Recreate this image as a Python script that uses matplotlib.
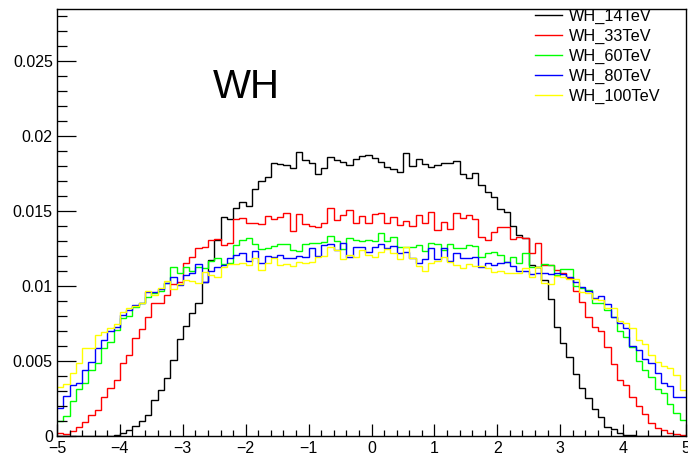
import numpy as np
import matplotlib
matplotlib.use("Agg")
import matplotlib.pyplot as plt
from matplotlib.ticker import MultipleLocator, FuncFormatter

plt.rcParams['font.family'] = ['Liberation Sans', 'DejaVu Sans']

# 100 bins from -5 to 5
edges = np.linspace(-5, 5, 101)

wh_14 = [0, 0, 0, 0, 0, 0, 0, 0, 0, 0.00007,
         0.00018, 0.0004, 0.00067, 0.001, 0.0014, 0.0024, 0.00307, 0.0039, 0.00507, 0.00644,
         0.00736, 0.00818, 0.00884, 0.01029, 0.01173, 0.01307, 0.01462, 0.01447, 0.01522, 0.01558,
         0.01536, 0.01644, 0.01702, 0.01725, 0.01822, 0.01813, 0.01807, 0.01784, 0.01896, 0.0184,
         0.01818, 0.01744, 0.01784, 0.01862, 0.0184, 0.01829, 0.01807, 0.01844, 0.01869, 0.01873,
         0.01851, 0.01829, 0.01796, 0.01778, 0.01762, 0.01889, 0.018, 0.01847, 0.01813, 0.01796,
         0.01807, 0.01822, 0.01822, 0.01836, 0.01747, 0.01718, 0.01751, 0.01673, 0.01629, 0.01591,
         0.01511, 0.01496, 0.014, 0.0134, 0.01318, 0.0114, 0.01124, 0.0104, 0.00911, 0.00724,
         0.00618, 0.00524, 0.00413, 0.00318, 0.00256, 0.0018, 0.00127, 0.0006, 0.00045, 0.0002,
         0.0001, 0.00007, 0, 0, 0, 0, 0, 0, 0, 0]

wh_33 = [0.00018, 0.00011, 0.00036, 0.00058, 0.00096, 0.0014, 0.00173, 0.00262, 0.00318, 0.00373,
         0.00489, 0.0054, 0.00656, 0.00711, 0.00796, 0.00889, 0.0089, 0.0094, 0.01013, 0.01029,
         0.01156, 0.01191, 0.01251, 0.01258, 0.01307, 0.01311, 0.01273, 0.01289, 0.01444, 0.01456,
         0.01422, 0.01418, 0.01413, 0.01465, 0.01444, 0.01462, 0.01484, 0.01369, 0.0148, 0.01413,
         0.014, 0.01391, 0.01422, 0.01518, 0.0144, 0.01473, 0.01507, 0.01418, 0.01467, 0.01418,
         0.0148, 0.01489, 0.01418, 0.01458, 0.01407, 0.01433, 0.014, 0.01473, 0.01422, 0.01493,
         0.01373, 0.01429, 0.01382, 0.01489, 0.01451, 0.01471, 0.01444, 0.01324, 0.01307, 0.01358,
         0.01391, 0.01391, 0.01316, 0.01324, 0.01318, 0.01222, 0.01289, 0.0114, 0.0114, 0.01107,
         0.01089, 0.01053, 0.00969, 0.00891, 0.00796, 0.00724, 0.00702, 0.00596, 0.0048, 0.00373,
         0.0034, 0.00258, 0.00202, 0.00144, 0.00084, 0.00051, 0.0004, 0.00022, 0.00011, 0.00007]

wh_60 = [0.00102, 0.00133, 0.00236, 0.00311, 0.00351, 0.0044, 0.00484, 0.00584, 0.00629, 0.00707,
         0.00784, 0.008, 0.00862, 0.00884, 0.00929, 0.00951, 0.00969, 0.0102, 0.01124, 0.01089,
         0.01124, 0.011, 0.01129, 0.01122, 0.01169, 0.01184, 0.01147, 0.01151, 0.01273, 0.01307,
         0.01322, 0.01278, 0.01247, 0.01251, 0.01267, 0.0128, 0.0128, 0.0124, 0.01233, 0.0128,
         0.01289, 0.01284, 0.01296, 0.01333, 0.01302, 0.01247, 0.01322, 0.01307, 0.01302, 0.01307,
         0.01302, 0.01351, 0.01302, 0.01329, 0.01258, 0.01262, 0.01262, 0.01273, 0.01236, 0.01284,
         0.01278, 0.0124, 0.01278, 0.01251, 0.01251, 0.01271, 0.01267, 0.01196, 0.01218, 0.01227,
         0.01207, 0.01158, 0.01191, 0.01156, 0.01222, 0.01129, 0.01129, 0.01147, 0.0114, 0.01073,
         0.01111, 0.01111, 0.01002, 0.00984, 0.00973, 0.00884, 0.00889, 0.0084, 0.00796, 0.00702,
         0.00658, 0.00596, 0.00502, 0.0044, 0.00396, 0.00311, 0.00284, 0.00213, 0.00156, 0.0011]

wh_80 = [0.00184, 0.00267, 0.0034, 0.00356, 0.0044, 0.00491, 0.00584, 0.0064, 0.007, 0.00724,
         0.00807, 0.0084, 0.00873, 0.00889, 0.00962, 0.00962, 0.00978, 0.01018, 0.01062, 0.01007,
         0.01073, 0.01089, 0.01147, 0.01029, 0.011, 0.01129, 0.0114, 0.01184, 0.01207, 0.01218,
         0.01169, 0.01236, 0.01151, 0.012, 0.01196, 0.01207, 0.01184, 0.01184, 0.01202, 0.01196,
         0.01251, 0.01202, 0.01273, 0.0128, 0.0124, 0.01284, 0.01196, 0.01262, 0.01262, 0.01229,
         0.01262, 0.0128, 0.01251, 0.01267, 0.01218, 0.01224, 0.01184, 0.01151, 0.01178, 0.01251,
         0.01178, 0.01251, 0.01169, 0.01218, 0.01184, 0.01184, 0.01191, 0.01129, 0.01156, 0.0114,
         0.01156, 0.01162, 0.01133, 0.011, 0.011, 0.01078, 0.01084, 0.01089, 0.0108, 0.01084,
         0.0108, 0.01058, 0.01029, 0.00996, 0.00967, 0.00918, 0.00933, 0.0088, 0.00796, 0.00756,
         0.00718, 0.006, 0.00573, 0.00511, 0.00484, 0.00422, 0.00356, 0.00333, 0.00258, 0.00262]

wh_100 = [0.00329, 0.00344, 0.00418, 0.00484, 0.00589, 0.00584, 0.00673, 0.00691, 0.00722, 0.00744,
          0.00829, 0.00851, 0.00869, 0.00884, 0.00969, 0.0094, 0.00984, 0.01036, 0.00978, 0.01013,
          0.0104, 0.01036, 0.01022, 0.01091, 0.01073, 0.01062, 0.01129, 0.01147, 0.01144, 0.01156,
          0.0114, 0.01184, 0.01107, 0.01155, 0.01184, 0.0114, 0.01147, 0.01133, 0.01162, 0.01151,
          0.01162, 0.01196, 0.012, 0.01258, 0.0124, 0.01178, 0.01207, 0.01191, 0.0124, 0.01207,
          0.01196, 0.01229, 0.01244, 0.01218, 0.01178, 0.01258, 0.01184, 0.01133, 0.011, 0.01156,
          0.01169, 0.01196, 0.01158, 0.0114, 0.01122, 0.01147, 0.01133, 0.01133, 0.01118, 0.01091,
          0.011, 0.01089, 0.01084, 0.01089, 0.01118, 0.01058, 0.01124, 0.01018, 0.01013, 0.01067,
          0.01058, 0.01044, 0.01044, 0.00962, 0.00956, 0.00911, 0.00907, 0.00851, 0.00851, 0.00769,
          0.00751, 0.00718, 0.0064, 0.00613, 0.0054, 0.00496, 0.00467, 0.00451, 0.00407, 0.00307]

labels = ['WH_14TeV', 'WH_33TeV', 'WH_60TeV', 'WH_80TeV', 'WH_100TeV']
colors = ['#000000', '#ff0000', '#00ff00', '#0000ff', '#ffff00']
series = [wh_14, wh_33, wh_60, wh_80, wh_100]

fig = plt.figure(figsize=(6.88, 4.55), dpi=100)
ax = fig.add_axes([57/688, 1 - 436/455, (686 - 57)/688, (436 - 9.3)/455])

for vals, col, lab in zip(series, colors, labels):
    ax.stairs(vals, edges, baseline=None, color=col, lw=1.0, label=lab)

ax.set_xlim(-5, 5)
ax.set_ylim(0, 0.02845)

ax.xaxis.set_major_locator(MultipleLocator(1))
ax.xaxis.set_minor_locator(MultipleLocator(0.2))
ax.yaxis.set_major_locator(MultipleLocator(0.005))
ax.yaxis.set_minor_locator(MultipleLocator(0.001))
ax.yaxis.set_major_formatter(FuncFormatter(lambda v, p: '%g' % round(v, 4)))

ax.tick_params(axis='both', which='both', direction='in', top=False, right=False,
               labelsize=11.5, width=0.9, colors='black')
ax.tick_params(axis='y', which='major', length=13.5, pad=3)
ax.tick_params(axis='y', which='minor', length=7)
ax.tick_params(axis='x', which='major', length=9, pad=3.5)
ax.tick_params(axis='x', which='minor', length=4.5)
for s in ax.spines.values():
    s.set_linewidth(1.0)

ax.text((213 - 57)/(686 - 57), (436 - 98)/(436 - 9.3), 'WH', fontsize=29,
        transform=ax.transAxes, ha='left', va='baseline')

leg_lines = [plt.Line2D([], [], color=c, lw=1.0) for c in colors]
ax.legend(leg_lines, labels, loc='upper left', bbox_to_anchor=(535/688, 1 - 8.5/455),
          bbox_transform=fig.transFigure, frameon=False, fontsize=11.7,
          handlelength=1.66, handletextpad=0.43, labelspacing=0.3,
          borderpad=0, borderaxespad=0)

fig.savefig('out.png', dpi=100)
